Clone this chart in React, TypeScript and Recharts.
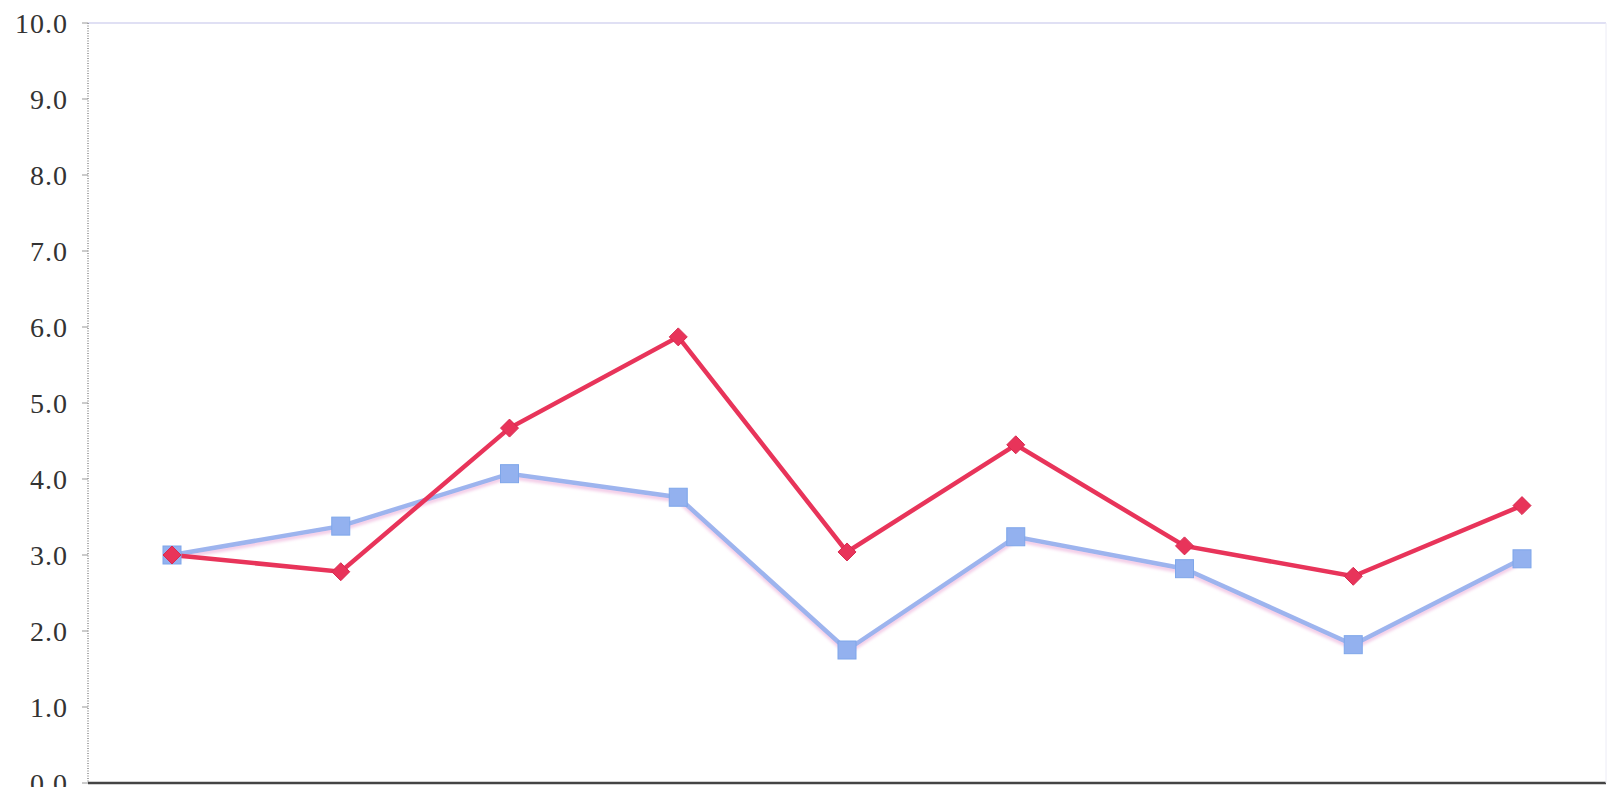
import React from 'react';
import { LineChart, Line, XAxis, YAxis, ReferenceLine } from 'recharts';

const categories = ['1', '2', '3', '4', '5', '6', '7', '8', '9'];
const redValues = [3.0, 2.78, 4.67, 5.87, 3.04, 4.45, 3.12, 2.72, 3.65];
const blueValues = [3.0, 3.38, 4.07, 3.76, 1.75, 3.24, 2.82, 1.82, 2.95];
const yTicks = [0, 1, 2, 3, 4, 5, 6, 7, 8, 9, 10];

const data = categories.map((c, i) => ({ cat: c, red: redValues[i], blue: blueValues[i] }));

const RED = '#e8345a';
const BLUE = '#9db4ee';

const SquareDot = (props: any) => {
  const { cx, cy, index } = props;
  if (cx == null || cy == null) return <g key={`sq-${index}`} />;
  return (
    <rect
      key={`sq-${index}`}
      x={cx - 9}
      y={cy - 9}
      width={18}
      height={18}
      fill="#93b1ef"
      stroke="#7ea6ea"
      strokeWidth={1}
    />
  );
};

const DiamondDot = (props: any) => {
  const { cx, cy, index } = props;
  if (cx == null || cy == null) return <g key={`dm-${index}`} />;
  const r = 9;
  return (
    <path
      key={`dm-${index}`}
      d={`M${cx},${cy - r} L${cx + r},${cy} L${cx},${cy + r} L${cx - r},${cy} Z`}
      fill={RED}
      stroke="#d82a50"
      strokeWidth={1}
    />
  );
};

const YTick = (props: any) => {
  const { x, y, payload } = props;
  return (
    <text
      x={x}
      y={y}
      textAnchor="end"
      dominantBaseline="central"
      fontFamily="'Liberation Serif', serif"
      fontSize={28}
      letterSpacing={1}
      fill="#333"
    >
      {Number(payload.value).toFixed(1)}
    </text>
  );
};

export default function App() {
  return (
    <div style={{ position: 'absolute', left: 0, top: 0, width: 1608, height: 787, background: '#fff', overflow: 'hidden' }}>
      <LineChart width={1608} height={787} data={data} margin={{ top: 23, right: 0, bottom: 0, left: 0 }}>
        <defs>
          <filter id="blueShadow" x="-5%" y="-20%" width="110%" height="150%">
            <feDropShadow dx="0" dy="3" stdDeviation="1.5" floodColor="#f2c6e4" floodOpacity="0.9" />
          </filter>
        </defs>
        <XAxis
          dataKey="cat"
          height={4}
          padding={{ left: 84, right: 84 }}
          tick={false}
          tickLine={false}
          axisLine={{ stroke: '#444', strokeWidth: 2.5 }}
        />
        <YAxis
          yAxisId="left"
          width={88}
          domain={[0, 10]}
          ticks={yTicks}
          interval={0}
          tick={<YTick />}
          tickSize={6}
          tickMargin={14}
          tickLine={{ stroke: '#999' }}
          axisLine={{ stroke: '#555', strokeDasharray: '1 1.5' }}
        />
        <YAxis
          yAxisId="right"
          orientation="right"
          width={2}
          domain={[0, 10]}
          tick={false}
          tickLine={false}
          axisLine={{ stroke: '#ececf6' }}
        />
        <ReferenceLine yAxisId="left" y={10} stroke="#d6d6f0" strokeWidth={1.5} />
        <Line
          yAxisId="left"
          dataKey="blue"
          stroke={BLUE}
          strokeWidth={4.5}
          filter="url(#blueShadow)"
          dot={<SquareDot />}
          isAnimationActive={false}
        />
        <Line
          yAxisId="left"
          dataKey="red"
          stroke={RED}
          strokeWidth={4.5}
          dot={<DiamondDot />}
          isAnimationActive={false}
        />
      </LineChart>
    </div>
  );
}
